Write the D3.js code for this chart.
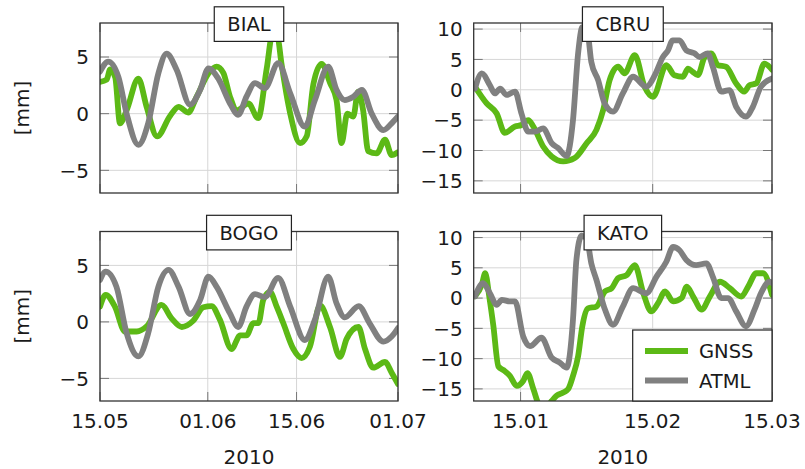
<!DOCTYPE html>
<html><head><meta charset="utf-8">
<script src="https://cdn.jsdelivr.net/npm/d3@7"></script>
<style>body{margin:0;background:#fff}svg{display:block}text{font-family:"DejaVu Sans",sans-serif;fill:#1a1a1a}</style>
</head><body><svg id="c" width="805" height="469"></svg>
<script>
// ---------- data: [day offset from panel start, value in mm] ----------
const stationNames = ["BIAL", "CBRU", "BOGO", "KATO"];
const seriesNames = ["GNSS", "ATML"];
const leftStart = "2010-05-15", leftEnd = "2010-07-01";
const rightStart = "2010-01-04", rightEnd = "2010-03-15";
const leftTickDates = ["2010-05-15", "2010-06-01", "2010-06-15", "2010-07-01"];
const leftTickLabels = ["15.05", "01.06", "15.06", "01.07"];
const rightTickDates = ["2010-01-15", "2010-02-15", "2010-03-15"];
const rightTickLabels = ["15.01", "15.02", "15.03"];
const leftYTicks = [-5, 0, 5];
const rightYTicks = [-15, -10, -5, 0, 5, 10];
const xAxisTitle = "2010";
const yAxisTitle = "[mm]";

const bialGnss = [[0,2.8],[1.05,3.0],[1.6,3.9],[2.4,3.2],[3.15,-0.85],[4.2,0.3],[6.05,3.1],[7.35,0.6],[9.0,-2.0],[11.05,-0.2],[12.4,0.6],[13.9,0.1],[15.25,1.5],[17.1,3.55],[18.4,4.15],[19.45,3.6],[20.5,1.5],[21.6,0.3],[23.4,0.9],[24.95,-0.4],[26.3,4.0],[27.2,7.0],[28.0,6.8],[28.6,4.5],[30.0,0.0],[31.55,-2.6],[32.6,-2.0],[33.65,2.6],[34.95,4.4],[36.3,2.7],[37.3,1.2],[38.1,-2.6],[39.0,0.0],[39.95,-0.25],[40.7,1.95],[41.5,0.3],[42.3,-3.3],[43.65,-3.5],[44.95,-2.3],[46.0,-3.65],[47.0,-3.4]];
const bialAtml = [[0,3.7],[1.3,4.6],[2.9,3.25],[4.2,0.0],[6.05,-2.75],[7.6,-0.85],[9.2,3.55],[10.5,5.3],[12.1,3.85],[14.2,0.8],[15.8,2.1],[17.1,4.0],[18.65,3.1],[20.5,0.9],[21.8,-0.1],[23.1,1.5],[24.45,2.7],[26.0,2.25],[28.1,4.45],[30.0,1.8],[32.3,-1.15],[33.9,1.2],[36.0,4.15],[37.3,2.1],[38.6,1.2],[39.95,1.5],[41.3,2.1],[42.85,0.0],[44.7,-1.45],[46.0,-0.85],[47.0,-0.25]];
const bogoGnss = [[0,1.35],[0.9,2.4],[2.35,1.35],[3.95,-0.85],[5.8,-0.85],[7.35,-0.4],[9.7,1.5],[11.3,0.3],[12.9,-0.45],[14.7,0.1],[16.3,1.3],[17.6,1.4],[18.9,0.2],[20.75,-2.4],[22.1,-1.2],[23.1,-1.2],[24.2,-0.1],[25.0,-0.1],[25.75,1.95],[26.8,2.65],[27.9,1.3],[28.9,-0.1],[30.5,-2.4],[31.8,-3.2],[33.1,-2.2],[34.7,1.45],[36.3,-0.5],[37.85,-3.1],[38.9,-1.5],[40.75,-0.45],[41.8,-2.4],[43.1,-4.05],[44.95,-3.55],[46.0,-4.5],[47.0,-5.5]];
const bogoAtml = [[0,3.7],[0.9,4.45],[2.6,3.1],[4.2,-1.0],[6.05,-3.05],[7.6,-1.0],[9.2,3.1],[10.8,4.6],[12.4,3.1],[14.2,0.7],[15.8,1.95],[17.1,4.0],[18.4,3.1],[20.5,0.75],[21.8,-0.45],[23.1,1.35],[24.45,2.45],[26.0,2.2],[28.1,3.9],[30.0,1.35],[32.3,-1.6],[33.9,0.2],[36.0,4.0],[37.3,1.65],[38.6,0.4],[40.8,1.4],[42.5,-0.1],[44.7,-1.75],[46.0,-1.3],[47.0,-0.55]];
const cbruGnss = [[0.3,0.5],[3.0,-2.2],[5.4,-3.9],[7.3,-7.1],[9.7,-6.05],[11.2,-5.8],[12.8,-5.0],[14.0,-6.05],[16.3,-9.35],[18.3,-11.0],[21.0,-11.8],[23.7,-11.25],[26.5,-8.8],[28.8,-6.6],[30.4,-3.3],[31.9,1.6],[33.9,3.8],[35.4,2.7],[37.8,5.7],[40.1,0.5],[42.1,-1.15],[45.2,4.05],[47.1,2.4],[49.1,2.15],[50.3,3.5],[51.4,2.95],[52.6,2.4],[54.2,5.4],[55.7,6.0],[57.3,4.05],[59.2,3.8],[61.6,1.05],[63.5,-0.3],[64.7,0.75],[66.3,1.05],[68.2,4.3],[70.0,3.3]];
const cbruAtml = [[0.3,0.2],[1.9,2.7],[3.8,0.75],[5.0,-0.6],[6.2,0.2],[7.7,-0.85],[9.7,-0.3],[11.2,-3.9],[12.8,-6.9],[14.4,-6.9],[16.3,-6.35],[18.3,-8.8],[19.8,-9.6],[21.8,-10.9],[23.3,-5.0],[24.5,6.0],[25.5,10.3],[26.6,9.9],[27.6,4.6],[29.2,1.6],[30.7,-2.2],[32.7,-3.6],[35.0,-0.6],[37.4,2.15],[40.5,0.5],[42.5,2.4],[44.4,5.4],[45.6,6.5],[46.7,8.15],[48.3,8.15],[49.9,6.5],[51.8,6.0],[53.0,5.4],[54.9,6.0],[56.1,3.8],[58.1,-0.3],[60.0,-0.05],[61.6,-2.8],[63.9,-4.4],[65.5,-2.8],[67.4,0.5],[70.0,1.85]];
const katoGnss = [[0.3,0.3],[1.9,2.2],[2.7,4.1],[3.7,0.0],[4.6,-4.5],[5.8,-11.3],[7.0,-11.9],[8.5,-12.85],[10.1,-14.5],[11.6,-13.7],[12.6,-12.4],[14.0,-15.0],[15.3,-17.6],[16.8,-18.3],[18.3,-17.0],[19.5,-16.1],[21.0,-15.6],[22.2,-15.0],[23.3,-12.85],[24.5,-9.6],[25.5,-4.6],[26.8,-1.7],[28.8,-1.4],[30.8,1.1],[32.4,1.65],[33.9,3.3],[35.9,3.8],[37.8,5.45],[39.8,0.8],[41.7,-2.2],[43.3,-0.8],[44.9,1.1],[46.8,-0.55],[48.8,0.0],[50.0,1.9],[51.5,0.25],[53.5,-1.9],[55.4,0.25],[57.8,2.7],[60.1,1.65],[62.8,0.25],[64.4,1.9],[66.3,4.1],[67.9,4.1],[70.0,0.55]];
const katoAtml = [[0.3,0.3],[2.2,2.45],[3.8,0.8],[5.4,-1.1],[6.6,-0.3],[8.5,-0.55],[9.7,-0.55],[11.6,-6.3],[13.2,-7.95],[15.9,-6.55],[18.3,-9.85],[20.2,-10.65],[21.8,-11.5],[23.3,-3.55],[24.1,6.3],[25.3,10.3],[26.5,9.9],[27.6,5.75],[28.8,3.0],[30.8,-1.9],[32.7,-4.4],[35.0,-1.4],[37.4,1.65],[40.5,0.8],[42.9,3.55],[45.2,6.0],[46.8,8.45],[48.3,7.9],[49.9,6.3],[52.2,5.45],[54.6,5.75],[56.1,3.55],[58.1,0.0],[59.7,0.0],[61.6,-2.2],[63.9,-4.65],[65.9,-1.9],[67.4,0.8],[69.4,2.7],[70.0,2.5]];

const panelData = {BIAL: [bialGnss, bialAtml], CBRU: [cbruGnss, cbruAtml], BOGO: [bogoGnss, bogoAtml], KATO: [katoGnss, katoAtml]};

// ---------- layout ----------
const colors = {GNSS: "#5cb916", ATML: "#808080"};
const parse = d3.utcParse("%Y-%m-%d");
const svg = d3.select("#c");
const cols = [{x0: 100, x1: 398, start: leftStart, end: leftEnd, ticks: leftTickDates, labels: leftTickLabels, yDom: [-7, 8], yTicks: leftYTicks},
              {x0: 473.7, x1: 772, start: rightStart, end: rightEnd, ticks: rightTickDates, labels: rightTickLabels, yDom: [-17, 11], yTicks: rightYTicks}];
const rows = [{y0: 23, y1: 193}, {y0: 231.5, y1: 401}];
const panels = [
  {name: "BIAL", c: 0, r: 0}, {name: "CBRU", c: 1, r: 0},
  {name: "BOGO", c: 0, r: 1}, {name: "KATO", c: 1, r: 1}];

const tickFont = 20;
panels.forEach((p, i) => {
  const col = cols[p.c], row = rows[p.r];
  const start = parse(col.start);
  const x = d3.scaleUtc().domain([start, parse(col.end)]).range([col.x0, col.x1]);
  const y = d3.scaleLinear().domain(col.yDom).range([row.y1, row.y0]);
  const g = svg.append("g");
  const W = col.x1 - col.x0, H = row.y1 - row.y0;
  const cid = "clip" + i;
  svg.append("clipPath").attr("id", cid).append("rect").attr("x", col.x0).attr("y", row.y0).attr("width", W).attr("height", H);

  // grid
  const tickDates = col.ticks.map(parse);
  g.append("g").selectAll("line").data(tickDates).join("line")
    .attr("x1", d => x(d)).attr("x2", d => x(d)).attr("y1", row.y0).attr("y2", row.y1)
    .attr("stroke", "#d6d6d6").attr("stroke-width", 1);
  g.append("g").selectAll("line").data(col.yTicks).join("line")
    .attr("x1", col.x0).attr("x2", col.x1).attr("y1", d => y(d)).attr("y2", d => y(d))
    .attr("stroke", "#d6d6d6").attr("stroke-width", 1);
  // inner tick marks
  const tk = 9;
  g.append("g").selectAll("path").data(col.yTicks).join("path")
    .attr("d", d => `M${col.x0},${y(d)}h${tk}M${col.x1},${y(d)}h${-tk}`)
    .attr("stroke", "#777").attr("stroke-width", 1);
  g.append("g").selectAll("path").data(tickDates).join("path")
    .attr("d", d => `M${x(d)},${row.y1}v${-tk}M${x(d)},${row.y0}v${tk}`)
    .attr("stroke", "#777").attr("stroke-width", 1);

  // lines
  const line = d3.line().x(d => x(new Date(start.getTime() + d[0] * 864e5))).y(d => y(d[1])).curve(d3.curveMonotoneX);
  const lg = g.append("g").attr("clip-path", `url(#${cid})`);
  panelData[p.name].forEach((s, k) => {
    lg.append("path").attr("d", line(s)).attr("fill", "none")
      .attr("stroke", colors[seriesNames[k]]).attr("stroke-width", 5.8)
      .attr("stroke-linejoin", "round").attr("stroke-linecap", "round");
  });

  // frame
  g.append("rect").attr("x", col.x0).attr("y", row.y0).attr("width", W).attr("height", H)
    .attr("fill", "none").attr("stroke", "#333").attr("stroke-width", 1.3);

  // y tick labels
  const fmt = d3.format("");
  g.append("g").selectAll("text").data(col.yTicks).join("text")
    .attr("x", col.x0 - 11).attr("y", d => y(d)).attr("dy", "0.36em")
    .attr("text-anchor", "end").attr("font-size", tickFont).text(d => fmt(d));

  // x tick labels on bottom row
  if (p.r === 1) {
    g.append("g").selectAll("text").data(tickDates).join("text")
      .attr("x", d => x(d)).attr("y", 421).attr("dy", "0.36em")
      .attr("text-anchor", "middle").attr("font-size", tickFont).text((d, j) => col.labels[j]);
    g.append("text").attr("x", (col.x0 + col.x1) / 2).attr("y", 457).attr("dy", "0.36em")
      .attr("text-anchor", "middle").attr("font-size", tickFont).text(xAxisTitle);
  }
  if (p.c === 0) {
    g.append("text").attr("transform", `translate(22,${(row.y0 + row.y1) / 2}) rotate(-90)`)
      .attr("dy", "0.36em").attr("text-anchor", "middle").attr("font-size", tickFont).text(yAxisTitle);
  }

  // title box
  const cx = (col.x0 + col.x1) / 2;
  const tg = g.append("g");
  const tt = tg.append("text").attr("x", cx).attr("y", row.y0 + 1.3).attr("dy", "0.36em")
    .attr("text-anchor", "middle").attr("font-size", 19.5).text(p.name);
  const bb = tt.node().getBBox();
  tg.insert("rect", "text").attr("x", cx - (bb.width + 26) / 2).attr("y", row.y0 - 16.2)
    .attr("width", bb.width + 26).attr("height", 34.6).attr("fill", "#fff").attr("stroke", "#222").attr("stroke-width", 1.2);

  // legend in KATO
  if (p.name === "KATO") {
    const lx0 = 632.7, ly0 = 330;
    const leg = g.append("g");
    leg.append("rect").attr("x", lx0).attr("y", ly0).attr("width", col.x1 - lx0).attr("height", row.y1 - ly0)
      .attr("fill", "#fff").attr("stroke", "#222").attr("stroke-width", 1.2);
    seriesNames.forEach((n, k) => {
      const yy = ly0 + 21 + k * 29.5;
      leg.append("line").attr("x1", 645).attr("x2", 688).attr("y1", yy).attr("y2", yy)
        .attr("stroke", colors[n]).attr("stroke-width", 5.8);
      leg.append("text").attr("x", 699).attr("y", yy).attr("dy", "0.36em").attr("font-size", 19.5).text(n);
    });
  }
});
</script></body></html>
